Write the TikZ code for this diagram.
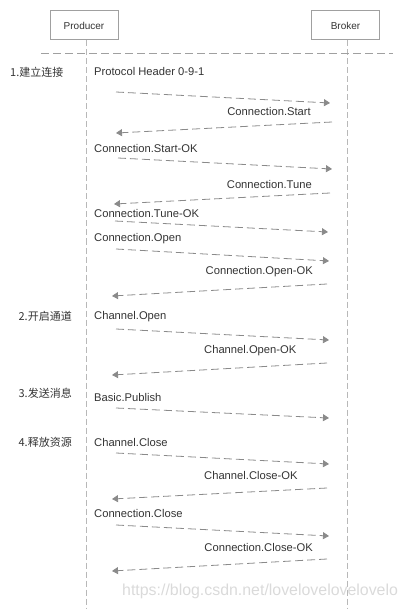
\documentclass[tikz,border=0pt]{standalone}
\usepackage{fontspec}
\setmainfont{Liberation Sans}
\newfontfamily\cjk{Noto Sans CJK SC}
\usetikzlibrary{arrows.meta}
\definecolor{boxline}{HTML}{A0A0A0}
\definecolor{lifeline}{HTML}{B8B8B8}
\definecolor{arrowcol}{HTML}{8A8A8A}
\definecolor{txt}{HTML}{333333}
\definecolor{wm}{HTML}{DADADA}
\tikzset{
  actor/.style={draw=boxline, line width=1pt, minimum width=68pt, minimum height=29pt, inner sep=0pt, font=\fontsize{10}{12}\selectfont, text=txt},
  life/.style={draw=lifeline, line width=1pt, dash pattern=on 6pt off 3pt},
  sep/.style={draw=boxline, line width=1pt, dash pattern=on 8pt off 4pt},
  msg/.style={draw=arrowcol, line width=0.8pt, dash pattern=on 8pt off 4pt, -{Triangle[length=6pt,width=7pt]}},
  lbl/.style={font=\fontsize{11.2}{13}\selectfont, text=txt, inner sep=0pt},
  phase/.style={font=\fontsize{11}{13}\selectfont\cjk, text=txt, inner sep=0pt},
}
\begin{document}
\begin{tikzpicture}[x=1pt,y=-1pt]
\useasboundingbox (0,0) rectangle (408,609);
% actors
\node[actor] (prod) at (84,25.5) {Producer};
\node[actor] (brok) at (345.5,25.5) {Broker};
\coordinate (pend) at (86,609);
\coordinate (bend) at (347,609);
\draw[life] (prod.south -| pend) -- (pend);
\draw[life] (brok.south -| bend) -- (bend);
\coordinate (sepL) at (41,54);
\coordinate (sepR) at (393,54);
\draw[sep] (sepL) -- (sepR);
% phases
\node[phase, anchor=west] (ph1) at (10,72) {1.建立连接};
\node[phase, anchor=east] (ph2) at (72,316) {2.开启通道};
\node[phase, anchor=east] (ph3) at (72,393) {3.发送消息};
\node[phase, anchor=east] (ph4) at (72,442) {4.释放资源};
% labels
\node[lbl, anchor=west] (l1) at (94,72) {Protocol Header 0-9-1};
\node[lbl, anchor=east] (l2) at (311,111) {Connection.Start};
\node[lbl, anchor=west] (l3) at (94,148) {Connection.Start-OK};
\node[lbl, anchor=east] (l4) at (312,184) {Connection.Tune};
\node[lbl, anchor=west] (l5) at (94,213) {Connection.Tune-OK};
\node[lbl, anchor=west] (l6) at (94,239) {Connection.Open};
\node[lbl, anchor=east] (l7) at (313,272) {Connection.Open-OK};
\node[lbl, anchor=west] (l8) at (94,317) {Channel.Open};
\node[lbl, anchor=west] (l9) at (204,351) {Channel.Open-OK};
\node[lbl, anchor=west] (l10) at (94,397) {Basic.Publish};
\node[lbl, anchor=west] (l11) at (94,442) {Channel.Close};
\node[lbl, anchor=west] (l12) at (204,475) {Channel.Close-OK};
\node[lbl, anchor=west] (l13) at (94,513) {Connection.Close};
\node[lbl, anchor=east] (l14) at (313,547) {Connection.Close-OK};
% arrow end points
\coordinate (a1s) at (116,92);  \coordinate (a1e) at (330,103);
\coordinate (a2s) at (332,122); \coordinate (a2e) at (116,133);
\coordinate (a3s) at (118,158); \coordinate (a3e) at (332,169);
\coordinate (a4s) at (330,193); \coordinate (a4e) at (114,204);
\coordinate (a5s) at (115,221); \coordinate (a5e) at (328,232);
\coordinate (a6s) at (116,249); \coordinate (a6e) at (329,261);
\coordinate (a7s) at (327,284); \coordinate (a7e) at (112,296);
\coordinate (a8s) at (116,329); \coordinate (a8e) at (329,340);
\coordinate (a9s) at (327,363); \coordinate (a9e) at (112,375);
\coordinate (a10s) at (116,408); \coordinate (a10e) at (329,418);
\coordinate (a11s) at (116,453); \coordinate (a11e) at (329,464);
\coordinate (a12s) at (327,488); \coordinate (a12e) at (112,499);
\coordinate (a13s) at (116,525); \coordinate (a13e) at (329,536);
\coordinate (a14s) at (327,559); \coordinate (a14e) at (112,571);
\foreach \i in {1,...,14} {\draw[msg] (a\i s) -- (a\i e);}
% watermark
\node[font=\fontsize{15.9}{18}\selectfont, text=wm, inner sep=0pt, anchor=west] (wmk) at (122,591) {https://blog.csdn.net/lovelovelovelovelo};
\end{tikzpicture}
\end{document}
